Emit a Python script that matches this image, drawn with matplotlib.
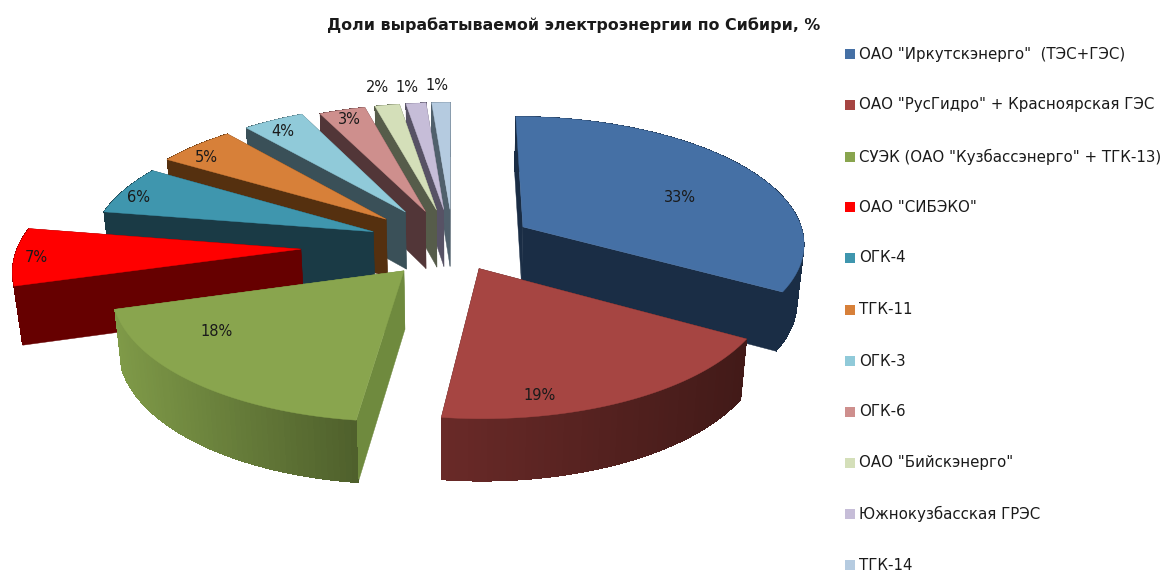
import numpy as np
import matplotlib
matplotlib.use('Agg')
import matplotlib.pyplot as plt
from matplotlib.patches import Polygon, Rectangle
from matplotlib.colors import to_rgb

names = ['ОАО "Иркутскэнерго"  (ТЭС+ГЭС)', 'ОАО "РусГидро" + Красноярская ГЭС',
         'СУЭК (ОАО "Кузбассэнерго" + ТГК-13)', 'ОАО "СИБЭКО"', 'ОГК-4', 'ТГК-11',
         'ОГК-3', 'ОГК-6', 'ОАО "Бийскэнерго"', 'Южнокузбасская ГРЭС', 'ТГК-14']
shares = [33.2, 18.6, 18.4, 7.1, 6.1, 5.1, 4.0, 3.0, 1.6, 1.3, 1.2]
explode = [1.0, 0.7, 0.9, 1.85, 1.05, 1.1, 1.1, 1.0, 1.0, 1.0, 1.0]

top_colors = ['#4570a5', '#a64542', '#89a54e', '#ff0000', '#3f96ae', '#d78039',
              '#90cad9', '#ce8f8d', '#d4dfb9', '#c6bdd8', '#b5cbe0']
wall_colors = ['#1a2d45', '#421a18', '#6f8a3e', '#660000', '#1a3a45', '#55300f',
               '#3a5058', '#523638', '#565c4a', '#575265', '#50606c']
arc_left = ['#1a2d45', '#6a2a28', '#7f9a48', '#660000', '#1a3a45', '#55300f',
            '#3a5058', '#523638', '#565c4a', '#575265', '#50606c']
arc_right = ['#1a2d45', '#421a18', '#4f602c', '#660000', '#1a3a45', '#55300f',
             '#3a5058', '#523638', '#565c4a', '#575265', '#50606c']

# where the percent labels sit, in pixels
label_x = [680, 540, 217, 36, 139, 206, 283, 349, 377, 407, 437]
label_y = [198, 395, 332, 258, 198, 157, 131, 120, 87, 87, 86]
legend_y = [54, 105, 157, 207, 258, 310, 361, 412, 463, 514, 565]

# fake perspective of the excel 3d pie
cx, cy = 453, 245
rx, ry = 283, 127
persp = 0.115
gap = 0.29
depth = 58
shrink = 0.98
font = 'DejaVu Sans'


def project(x, y, bottom=False):
    k = 1 + persp*y
    sx = rx*x/k
    sy = -ry*y/k
    if bottom:
        sx = sx*shrink
        sy = sy + depth/np.sqrt(k)
    return cx + sx, cy + sy


fig = plt.figure(figsize=(11.62, 5.72), dpi=100)
ax = fig.add_axes([0, 0, 1, 1])
ax.set_xlim(0, 1162)
ax.set_ylim(572, 0)
ax.axis('off')

# angles go clockwise from the top
total = sum(shares)
edges = 90 - np.cumsum([0] + shares)*360/total

order = [10, 9, 8, 7, 6, 5, 4, 3, 0, 2, 1]
for z, i in enumerate(order):
    a0, a1 = np.radians(edges[i]), np.radians(edges[i+1])
    mid = (a0 + a1)/2
    ox = gap*explode[i]*np.cos(mid)
    oy = gap*explode[i]*np.sin(mid)
    t = np.linspace(a0, a1, 60)
    ux = ox + np.cos(t)
    uy = oy + np.sin(t)

    top_x, top_y = project(ux, uy)
    low_x, low_y = project(ux, uy, True)
    ax_top, ay_top = project(ox, oy)
    ax_low, ay_low = project(ox, oy, True)

    # radial walls first, the top face hides the one facing away
    for e in [0, -1]:
        ax.add_patch(Polygon([(ax_top, ay_top), (top_x[e], top_y[e]), (low_x[e], low_y[e]),
                              (ax_low, ay_low)], facecolor=wall_colors[i],
                             edgecolor=wall_colors[i], lw=0.3, zorder=z*3))

    # outer wall as thin strips for the shading, on a base so no seams show
    left, right = np.array(to_rgb(arc_left[i])), np.array(to_rgb(arc_right[i]))
    base = list(zip(top_x, top_y)) + list(zip(low_x[::-1], low_y[::-1]))
    ax.add_patch(Polygon(base, facecolor=(left + right)/2, edgecolor='none', zorder=z*3+1))
    span = top_x.max() - top_x.min()
    for j in range(len(t)-1):
        f = (top_x[j] - top_x.min())/span
        c = left*(1-f) + right*f
        ax.add_patch(Polygon([(top_x[j], top_y[j]), (top_x[j+1], top_y[j+1]),
                              (low_x[j+1], low_y[j+1]), (low_x[j], low_y[j])],
                             facecolor=c, edgecolor='none', antialiased=False, zorder=z*3+1))

    pts = [(ax_top, ay_top)] + list(zip(top_x, top_y))
    ax.add_patch(Polygon(pts, facecolor=top_colors[i], edgecolor=top_colors[i],
                         lw=0.3, zorder=z*3+2))

for i in range(len(shares)):
    ax.text(label_x[i], label_y[i], f'{round(shares[i])}%', ha='center', va='center',
            fontsize=10.5, color='#1a1a1a', family=font, zorder=100)
    ax.add_patch(Rectangle((845, legend_y[i]-5), 10, 10, facecolor=top_colors[i],
                           edgecolor='none', zorder=100))
    ax.text(859, legend_y[i], names[i], ha='left', va='center', fontsize=10.8,
            color='#1a1a1a', family=font, zorder=100)

ax.text(574, 25, 'Доли вырабатываемой электроэнергии по Сибири, %', ha='center',
        va='center', fontsize=11.4, fontweight='bold', color='#1a1a1a', family=font)

fig.savefig('out.png', dpi=100, facecolor='white')
